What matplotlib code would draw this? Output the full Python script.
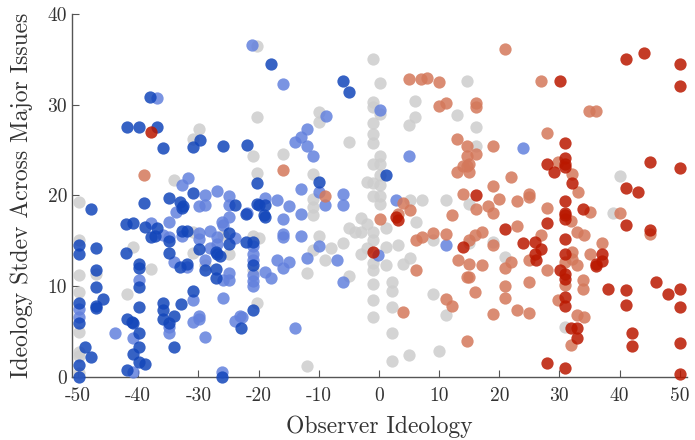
import matplotlib
matplotlib.use('Agg')
import matplotlib.pyplot as plt

plt.rcParams['font.family'] = 'serif'
plt.rcParams['font.serif'] = ['cmr10', 'DejaVu Serif']
plt.rcParams['axes.unicode_minus'] = False

# dark blue
db_x = [-38.0, -41.9, -39.9, -36.8, -35.9, -29.8, -30.9, -25.9, -22.0, -20.2, -47.9, -39.0, -34.9, -30.9, -23.9, -20.2, -33.0, -32.5,
        -42.0, -40.9, -38.9, -37.9, -37.2, -36.8, -34.8, -34.9, -33.0, -31.9, -32.8, -31.9, -29.9, -26.9, -26.4, -28.9, -27.0, -27.0,
        -24.9, -24.9, -20.9, -20.9, -49.9, -49.9, -49.9, -49.9, -48.8, -47.9, -49.9, -49.9, -47.0, -47.0, -47.0, -45.8, -47.0, -47.0,
        -42.1, -39.9, -39.9, -39.9, -39.9, -41.9, -41.0, -40.9, -39.9, -39.9, -40.9, -39.9, -38.9, -41.9, -35.9, -35.9, -35.9, -34.9,
        -34.0, -34.0, -32.9, -30.9, -26.0, -22.9, -17.9, -10.0, -5.9, -5.0, -19.9, -19.0, 1.1, -22.1, -19.1, -22.1, -20.9,
        -32.8, -18.9, -27.0]
db_y = [30.8, 27.6, 27.6, 27.6, 25.2, 26.1, 25.3, 25.4, 25.6, 21.4, 18.5, 19.2, 19.7, 20.3, 18.9, 19.1, 19.3, 18.8,
        16.9, 17.0, 16.5, 15.4, 15.5, 16.4, 15.0, 13.7, 12.1, 12.5, 16.1, 16.1, 14.1, 13.5, 13.3, 11.8, 11.9, 10.9,
        15.9, 14.7, 14.9, 7.4, 14.5, 13.6, 8.1, 5.9, 3.3, 2.2, 1.3, 0.0, 14.2, 11.8, 9.9, 8.6, 7.8, 7.6,
        13.7, 12.5, 12.0, 9.9, 7.7, 6.4, 6.1, 6.0, 4.8, 3.3, 2.5, 1.7, 1.4, 0.8, 8.1, 7.4, 6.4, 6.0,
        6.7, 3.3, 8.0, 9.5, 0.0, 5.4, 34.5, 21.5, 32.6, 31.4, 18.9, 18.9, 22.3, 18.0, 17.8, 14.9, 12.3,
        18.6, 17.6, 13.8]

# light blue
lb_x = [-21.1, -36.9, -31.8, -32.8, -28.9, -26.9, -24.9, -22.0, -29.9, -28.9, -33.8, -24.9,
        -37.9, -35.8, -34.8, -34.8, -34.0, -31.9, -32.7, -29.9, -29.9, -28.0, -26.9, -26.9, -28.9, -25.9, -24.9, -24.9, -25.9, -23.9, -24.9,
        -49.9, -49.9, -43.9, -39.9, -40.9, -40.9, -34.9, -34.9, -30.9, -30.9, -29.9, -29.9, -28.9, -25.9, -26.0, -23.9, -23.0,
        -16.0, -8.8, -12.0, -13.0, -14.0, -12.0, -10.9, -13.0, -10.0, -9.0, -5.9, -5.9, -14.9, -17.0, -18.9, 0.1, 2.9, 5.0,
        -16.0, -13.0, -20.9, -20.9, -20.9, -20.9, -20.9, -20.9, -22.8, -18.9, -17.9, -17.0, -16.0, -16.0, -16.0, -14.9, -13.0, -12.0,
        -10.0, -7.0, -5.9, -14.0, -0.1, 11.1, 24.0, -28.1, -26.1]
lb_y = [36.6, 30.7, 21.9, 21.2, 20.0, 20.5, 19.9, 18.1, 18.8, 18.9, 18.2, 19.0,
        17.0, 15.7, 17.1, 15.4, 12.7, 12.1, 15.5, 15.9, 15.2, 16.1, 15.4, 14.7, 12.9, 10.7, 11.5, 10.7, 16.7, 15.3, 17.6,
        7.5, 6.6, 4.9, 10.7, 4.3, 0.5, 5.5, 4.9, 8.5, 6.1, 6.7, 6.4, 4.4, 8.7, 0.5, 6.2, 6.7,
        32.3, 28.8, 27.3, 26.5, 25.9, 25.5, 24.3, 20.7, 20.4, 19.0, 20.2, 19.0, 18.8, 19.5, 19.7, 29.4, 19.5, 24.4,
        17.4, 18.0, 14.4, 13.6, 12.9, 11.2, 10.6, 10.0, 6.6, 11.6, 10.9, 12.9, 15.8, 15.4, 12.0, 12.7, 15.5, 13.1,
        14.4, 12.9, 10.5, 5.4, 13.4, 14.5, 25.2, 14.2, 17.1]

# gray
gr_x = [-20.2, -29.9, -30.9, -20.9, -20.2, -20.2, -49.9, -34.0,
        -30.9, -30.9, -28.9, -25.9, -24.9, -20.9, -20.9, -20.2, -49.9, -49.9, -49.9, -49.9, -49.9, -49.9, -49.9, -47.0, -40.9, -37.9, -41.9,
        -16.0, -10.0, -10.0, -10.9, -10.9, -5.0, -0.9, 0.1, -0.9, -0.9, 0.1, -0.9, -0.9, -0.9, 0.1, -0.9, 0.1, 0.1, -2.0, -0.9, 0.1,
        -0.9, 0.1, 0.1, 5.1, 7.1, 11.1, -2.9, 14.7, 6.0, 6.0, 5.0, 12.9,
        -11.0, -11.0, -19.9, -12.0, -10.0, -10.9, -9.0, -7.9, -5.9, -5.0, -5.0, -12.0, -4.0, -2.9, -1.9, -0.9, -0.9, -2.9, -1.9,
        -0.9, -0.9, 1.1, 1.1, 1.1, 6.1, 3.1, 4.0, 5.1, 9.0, -0.9, 2.1, 2.1, -0.9, 2.1, -0.9, 2.1, 5.0, 2.1, 9.0, 11.1, 10.0,
        16.1, 16.1, 15.0, 40.0, 38.9, 19.0, 20.9, 31.0, 15.0]
gr_y = [36.5, 27.3, 26.2, 24.4, 28.7, 22.5, 19.3, 21.7,
        16.0, 13.7, 12.3, 15.6, 13.6, 15.5, 11.8, 8.1, 15.1, 11.2, 9.4, 5.0, 2.8, 2.3, 0.4, 11.4, 14.3, 11.9, 9.1,
        24.6, 29.2, 28.1, 22.4, 19.6, 25.9, 35.0, 32.4, 30.3, 29.7, 29.0, 28.0, 26.8, 25.8, 24.3, 23.5, 23.5, 22.3, 21.5, 21.4, 21.2,
        19.9, 19.9, 19.1, 19.5, 19.5, 19.5, 17.5, 32.6, 30.4, 28.6, 27.8, 28.9,
        17.8, 18.7, 15.3, 11.5, 15.5, 14.0, 12.9, 14.2, 14.8, 16.4, 11.1, 1.2, 16.0, 16.0, 16.9, 16.0, 15.1, 13.6, 14.2,
        12.6, 11.8, 14.3, 12.3, 16.4, 17.1, 14.6, 12.5, 13.1, 15.1, 10.3, 10.5, 9.5, 8.5, 7.7, 6.6, 4.8, 2.4, 1.8, 9.1, 6.8, 2.9,
        27.5, 25.5, 19.1, 22.1, 18.1, 14.9, 13.2, 5.5, 14.8]

# light red
lr_x = [-39.0, -16.0, -9.0, 4.0, 5.1, 12.1, 0.2, 5.0, 7.0, 8.0, 10.0, 10.0, 11.1, 12.9, 14.7, 14.7, 13.9, 14.7, 12.9, 14.0,
        3.1, 6.1, 6.1, 7.1, 9.0, 11.1, 13.2, 14.7, 4.0, 11.1, 12.1, 14.7,
        21.0, 27.0, 34.9, 36.0, 16.1, 16.1, 16.1, 19.0, 15.0, 15.0, 22.0, 19.0, 20.0, 23.0, 25.0, 25.0, 18.1, 19.0, 16.1,
        28.0, 29.8, 32.1, 33.1, 28.0, 35.0, 40.0,
        32.0, 45.0, 23.0, 15.0, 16.0, 17.1, 19.0, 15.0, 17.1, 15.0, 16.0, 22.0, 21.0, 21.0, 21.0, 19.0, 23.0, 25.0, 25.0, 25.0,
        27.0, 28.0, 31.0, 32.1, 32.1, 33.0, 34.1, 33.0, 35.1, 37.0, 33.9, 33.9, 31.0, 29.8, 33.0, 34.1, 32.0]
lr_y = [22.3, 22.8, 19.9, 19.2, 18.4, 17.8, 17.4, 32.8, 32.8, 33.0, 32.5, 29.9, 30.2, 26.2, 25.4, 24.4, 23.2, 23.2, 22.6, 20.2,
        18.0, 15.1, 11.8, 15.4, 15.9, 15.8, 12.9, 11.0, 7.2, 8.6, 7.8, 4.0,
        36.1, 32.6, 29.3, 29.3, 30.2, 29.8, 24.6, 25.4, 23.5, 22.6, 22.0, 21.1, 19.6, 19.4, 20.2, 19.8, 18.8, 18.1, 18.5,
        26.9, 23.7, 22.4, 20.4, 18.6, 18.2, 18.1,
        17.2, 15.8, 16.6, 15.1, 15.6, 16.0, 14.5, 12.5, 12.3, 11.0, 9.4, 12.7, 12.0, 10.0, 8.7, 6.9, 7.4, 7.0, 10.5, 12.9,
        15.6, 11.8, 12.7, 13.8, 13.0, 16.0, 15.6, 12.3, 13.6, 14.8, 10.7, 9.7, 10.1, 8.5, 6.8, 6.6, 3.5]

# dark red
dr_x = [-37.9, 2.9, -0.9, 3.1, 13.9,
        30.1, 41.0, 44.0, 50.0, 50.0, 31.0, 31.0, 31.0, 28.0, 31.0, 29.1, 32.1, 31.0, 33.9, 31.0, 41.0, 43.0, 45.0, 50.0, 16.1,
        31.0, 31.0, 28.0, 41.0, 45.0, 21.0, 24.0, 25.9, 25.9, 26.1, 27.0, 30.1, 31.0, 31.0, 31.0, 31.0, 37.0, 37.0, 36.0, 36.0,
        31.0, 31.0, 32.0, 33.0, 33.0, 28.0, 31.0, 38.0, 41.0, 41.0, 46.1, 48.0, 50.0, 50.0, 42.0, 42.0, 50.0, 50.0]
dr_y = [27.0, 17.6, 13.8, 17.3, 14.3,
        32.6, 35.0, 35.7, 34.5, 32.1, 25.8, 24.1, 23.5, 23.5, 23.1, 22.6, 21.4, 19.4, 18.5, 18.1, 20.8, 20.4, 23.7, 23.0, 20.0,
        17.8, 17.4, 17.0, 16.7, 16.2, 16.3, 14.8, 14.9, 13.5, 12.9, 14.1, 11.8, 11.4, 10.8, 15.2, 13.5, 13.6, 12.8, 12.5, 12.2,
        8.8, 7.8, 5.4, 5.4, 4.3, 1.5, 1.0, 9.7, 9.6, 7.9, 10.5, 9.1, 9.7, 7.7, 4.8, 3.4, 3.8, 0.3]

groups = [(gr_x, gr_y, '#cdcdcd'), (lb_x, lb_y, '#6381dd'), (lr_x, lr_y, '#d4785b'),
          (db_x, db_y, '#1346ba'), (dr_x, dr_y, '#ba1800')]

fig = plt.figure(figsize=(6.95, 4.4), dpi=100)
ax = fig.add_axes([72/695, 1-377/440, 615/695, 363/440])
for x, y, c in groups:
    ax.scatter(x, y, s=78, color=c, alpha=0.85, linewidths=0, clip_on=False, zorder=3)

ax.set_xlim(-51, 51.2)
ax.set_ylim(0, 40)
ax.set_xticks(range(-50, 51, 10))
ax.set_yticks(range(0, 41, 10))
for s in ['top', 'right']:
    ax.spines[s].set_visible(False)
for s in ['left', 'bottom']:
    ax.spines[s].set_color('#555555')
    ax.spines[s].set_linewidth(1.0)
ax.tick_params(direction='in', length=5, color='#555555', labelsize=14, labelcolor='#333333')
ax.tick_params(axis='x', pad=7)
ax.set_xlabel('Observer Ideology', fontsize=17, color='#333333', labelpad=8)
ax.set_ylabel('Ideology Stdev Across Major Issues', fontsize=17, color='#333333')
ax.yaxis.set_label_coords(-39/615, 0.5)

plt.savefig('out.png', dpi=100)
